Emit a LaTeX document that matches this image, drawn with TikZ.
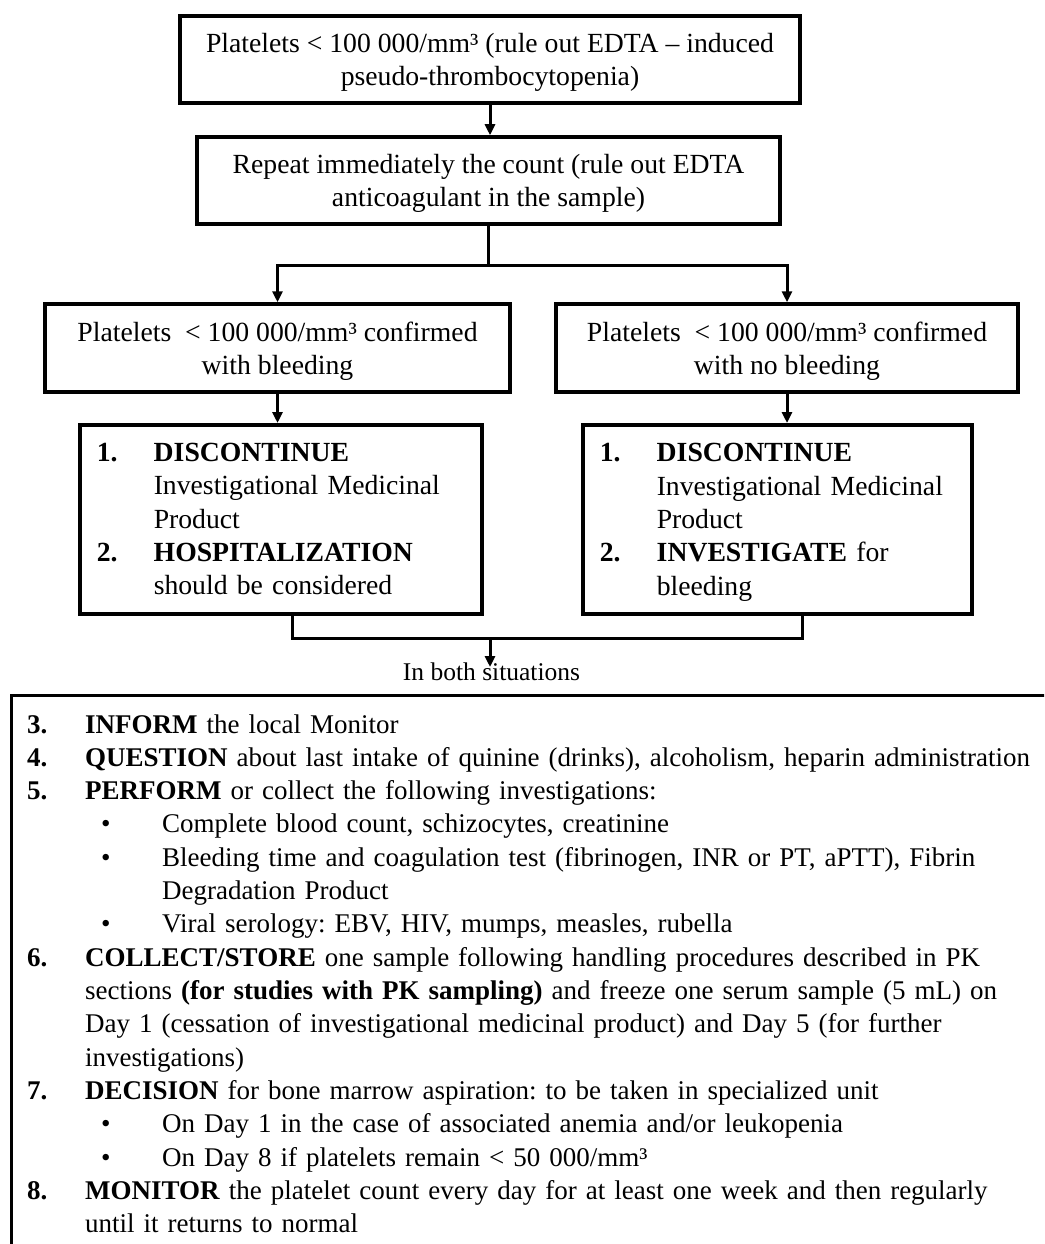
\documentclass[tikz,border=0pt]{standalone}
\usepackage{fontspec}
\setmainfont{Liberation Serif}
\usetikzlibrary{arrows.meta,calc}
\frenchspacing
\newcommand\bodyfont{\fontsize{27.7}{33.3}\selectfont\frenchspacing}
\newcommand\listfont{\fontsize{27}{33.33}\selectfont\frenchspacing}
\newcommand\lblfont{\fontsize{25.5}{30}\selectfont}
\newcommand\itm[2]{\makebox[58pt][l]{\textbf{#1}}#2}
\newcommand\itmcont[1]{\hspace*{58pt}#1}
\newcommand\bul[1]{\hspace*{58pt}\makebox[77pt][l]{\hspace{16pt}•}#1}
\newcommand\bulcont[1]{\hspace*{135pt}#1}
\newcommand\bxitm[2]{\makebox[57pt][l]{\textbf{#1}}#2}
\newcommand\bxcont[1]{\hspace*{57pt}#1}
\begin{document}
\begin{tikzpicture}[x=1pt,y=-1pt,
  box/.style={draw, line width=3.5pt, align=center, font=\bodyfont, inner sep=0pt, text depth=0pt},
  listbox/.style={draw, line width=3.5pt, align=left, font=\bodyfont, inner xsep=17pt, inner ysep=0pt, anchor=north west},
  conn/.style={line width=3pt},
  arr/.style={line width=3pt, -{Triangle[length=11pt,width=10pt]}}]
\useasboundingbox (0,0) rectangle (1044,1244);
\clip (0,0) rectangle (1044,1244);

\node[box, minimum width=620pt, minimum height=87pt] (b1) at (490,59.5)
  {Platelets < 100 000/mm³ (rule out EDTA – induced\\pseudo-thrombocytopenia)};
\node[box, minimum width=583pt, minimum height=87pt] (b2) at (488.5,180.5)
  {Repeat immediately the count (rule out EDTA\\anticoagulant in the sample)};
\node[box, minimum width=465pt, minimum height=88pt] (b3) at (277.5,348)
  {Platelets\ \ < 100 000/mm³ confirmed\\with bleeding};
\node[box, minimum width=462pt, minimum height=88pt] (b4) at (787,348)
  {Platelets\ \ < 100 000/mm³ confirmed\\with no bleeding};
\node[listbox, text width=368pt, minimum height=189pt] (b5) at (78,423)
  {\bxitm{1.}{\textbf{DISCONTINUE}}\\
   \bxcont{Investigational Medicinal}\\
   \bxcont{Product}\\
   \bxitm{2.}{\textbf{HOSPITALIZATION}}\\
   \bxcont{should be considered}};
\node[listbox, text width=355pt, minimum height=189pt] (b6) at (581,423)
  {\bxitm{1.}{\textbf{DISCONTINUE}}\\
   \bxcont{Investigational Medicinal}\\
   \bxcont{Product}\\
   \bxitm{2.}{\textbf{INVESTIGATE} for}\\
   \bxcont{\smash{bleeding}}};

\draw[arr] (b1.south) -- (b1.south |- b2.north);
\draw[conn] (b2.south) -- ++(0,40) coordinate (fork);
\draw[arr] (fork) -| (b3.north);
\draw[arr] (fork) -| (b4.north);
\draw[arr] (b3.south) -- (b3.south |- b5.north);
\draw[arr] (b4.south) -- (b4.south |- b6.north);

\coordinate (join) at (490,638);
\coordinate (tip) at (490,667);
\draw[conn] ([xshift=12pt]b5.south) |- (join) -| ([xshift=25pt]b6.south);
\draw[arr] (join) -- (tip);
\node[font=\lblfont, inner sep=0pt] (both) at (491.5,672) {In both situations};

\node[draw, line width=3pt, anchor=north west, minimum width=1200pt, minimum height=700pt] (mainbox) at (10,694) {};

\node[font=\listfont, align=left, text width=1100pt, inner sep=0pt, anchor=base west] (list) at (27,733)
  {\itm{3.}{\textbf{INFORM} the local Monitor}\\
   \itm{4.}{\textbf{QUESTION} about last intake of quinine (drinks), alcoholism, heparin administration}\\
   \itm{5.}{\textbf{PERFORM} or collect the following investigations:}\\
   \bul{Complete blood count, schizocytes, creatinine}\\
   \bul{Bleeding time and coagulation test (fibrinogen, INR or PT, aPTT), Fibrin}\\
   \bulcont{Degradation Product}\\
   \bul{Viral serology: EBV, HIV, mumps, measles, rubella}\\
   \itm{6.}{\textbf{COLLECT/STORE} one sample following handling procedures described in PK}\\
   \itmcont{sections \textbf{(for studies with PK sampling)} and freeze one serum sample (5 mL) on}\\
   \itmcont{Day 1 (cessation of investigational medicinal product) and Day 5 (for further}\\
   \itmcont{investigations)}\\
   \itm{7.}{\textbf{DECISION} for bone marrow aspiration: to be taken in specialized unit}\\
   \bul{On Day 1 in the case of associated anemia and/or leukopenia}\\
   \bul{On Day 8 if platelets remain < 50 000/mm³}\\
   \itm{8.}{\textbf{MONITOR} the platelet count every day for at least one week and then regularly}\\
   \itmcont{until it returns to normal}};
\end{tikzpicture}
\end{document}
